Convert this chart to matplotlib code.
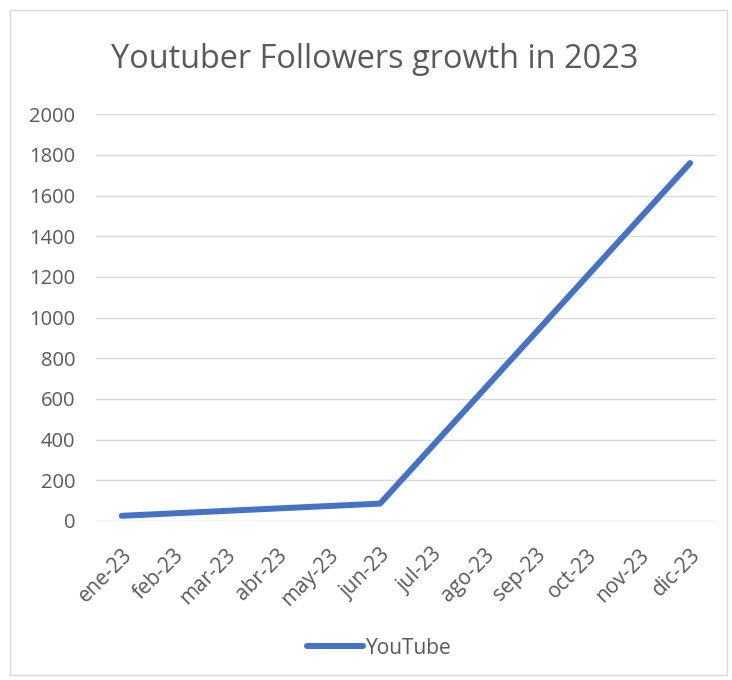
import numpy as np
import matplotlib
matplotlib.use("Agg")
import matplotlib.pyplot as plt
from matplotlib.patches import Rectangle

plt.rcParams['font.family'] = ['Open Sans', 'DejaVu Sans']

months = ["ene-23", "feb-23", "mar-23", "abr-23", "may-23", "jun-23",
          "jul-23", "ago-23", "sep-23", "oct-23", "nov-23", "dic-23"]
youtube = [25, None, None, None, None, 85, None, None, None, None, None, 1760]
yticks = [0, 200, 400, 600, 800, 1000, 1200, 1400, 1600, 1800, 2000]

txt = "#595959"
fig = plt.figure(figsize=(7.32, 6.8), dpi=100)
ax = fig.add_axes([0.131, 0.234, 0.847, 0.598])

xs = [i for i, v in enumerate(youtube) if v is not None]
ys = [v for v in youtube if v is not None]
ax.plot(xs, ys, color="#4472C4", lw=4.3, solid_capstyle="round",
        solid_joinstyle="round", label="YouTube", zorder=3)

ax.set_xlim(-0.5, len(months) - 0.5)
ax.set_ylim(0, 2000)
ax.set_yticks(yticks)
ax.set_yticklabels([str(v) for v in yticks], color=txt, fontsize=14.5)
ax.set_xticks(range(len(months)))
ax.set_xticklabels(months, rotation=45, ha="right", rotation_mode="anchor",
                   color=txt, fontsize=15)
ax.tick_params(axis="y", length=0, pad=15)
ax.tick_params(axis="x", length=0, pad=17)
ax.grid(axis="y", color="#D9D9D9", lw=1)
ax.set_axisbelow(True)
for s in ax.spines.values():
    s.set_visible(False)
ax.axhline(0, color="#D9D9D9", lw=1, zorder=1)

fig.text(0.512, 0.912, "Youtuber Followers growth in 2023", ha="center",
         va="center", fontsize=23.4, color=txt)

leg = fig.legend(loc="center", bbox_to_anchor=(0.518, 0.047), frameon=False,
                 fontsize=15, handlelength=2.7, handletextpad=0.15)
for t in leg.get_texts():
    t.set_color(txt)

fig.patches.append(Rectangle((0.013, 0.008), 0.98, 0.978, transform=fig.transFigure,
                             fill=False, edgecolor="#D9D9D9", lw=1))
fig.savefig("out.png", dpi=100, facecolor="white")
